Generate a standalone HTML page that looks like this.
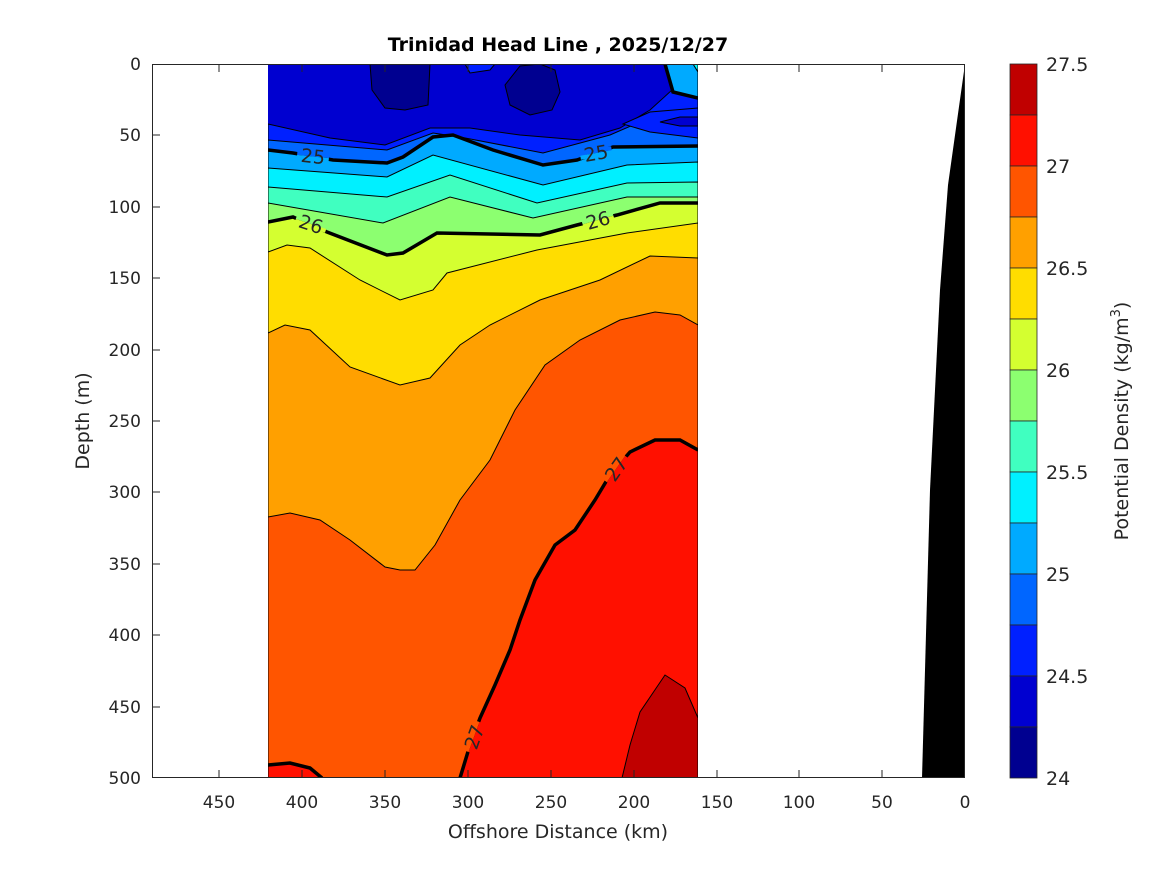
<!DOCTYPE html>
<html><head><meta charset="utf-8"><style>
body{margin:0;background:#fff;}
svg text{font-family:"DejaVu Sans","Liberation Sans",sans-serif;fill:#262626;}
</style></head><body>
<svg width="1167" height="875" viewBox="0 0 1167 875" xmlns="http://www.w3.org/2000/svg">
<defs><clipPath id="c"><rect x="268" y="64" width="430" height="714"/></clipPath></defs>
<rect width="1167" height="875" fill="#fff"/>
<g clip-path="url(#c)" stroke="#000" stroke-width="1">
<rect x="268" y="64" width="430" height="714" fill="#0000d0" stroke="none"/>
<path d="M370,64 L372,90 L385,108 L405,110 L428,105 L430,64 Z" fill="#000090"/>
<path d="M505,85 L510,105 L530,115 L552,110 L560,92 L555,70 L540,64 L520,66 Z" fill="#000090"/>
<path d="M465,64 L470,73 L490,70 L495,64 Z" fill="#0020ff"/>
<path d="M268,124 L330,138 L385,145 L430,128 L470,128 L520,135 L580,140 L620,128 L650,110 L672,90 L680,64 L698,64 L698,778 L268,778 Z" fill="#0020ff"/>
<path d="M268,140 L387,150 L433,133 L460,137 L543,153 L610,135 L640,122 L698,118 L698,778 L268,778 Z" fill="#0066ff"/>
<path d="M623,124 L650,112 L698,108 L698,138 L650,132 Z" fill="#0020ff"/>
<path d="M660,122 L680,117 L698,117 L698,126 L680,126 Z" fill="#0000d0"/>
<path d="M268,150 L293,153 L333,160 L387,163 L403,157 L433,137 L453,135 L493,150 L543,165 L577,160 L613,147 L698,146 L698,778 L268,778 Z" fill="#00aaff"/>
<path d="M665,64 L673,92 L698,98 L698,64 Z" fill="#00aaff"/>
<path d="M693,64 L698,72 L698,64 Z" fill="#00ffff"/>
<path d="M268,168 L387,177 L433,155 L543,185 L627,165 L698,162 L698,778 L268,778 Z" fill="#00f0ff"/>
<path d="M268,187 L387,197 L450,175 L537,203 L627,183 L698,182 L698,778 L268,778 Z" fill="#40ffc0"/>
<path d="M268,203 L383,223 L450,197 L533,218 L627,197 L698,197 L698,778 L268,778 Z" fill="#8cff70"/>
<path d="M268,222 L293,217 L327,232 L387,255 L403,253 L437,233 L540,235 L577,225 L617,215 L660,203 L698,203 L698,778 L268,778 Z" fill="#d4ff30"/>
<path d="M268,252 L287,245 L310,248 L360,280 L400,300 L433,290 L447,273 L537,250 L627,233 L698,223 L698,778 L268,778 Z" fill="#ffdd00"/>
<path d="M268,333 L285,325 L310,330 L350,367 L400,385 L430,378 L460,345 L490,325 L540,300 L600,280 L650,256 L698,258 L698,778 L268,778 Z" fill="#ffa000"/>
<path d="M268,517 L290,513 L320,520 L350,540 L385,567 L400,570 L415,570 L435,545 L460,500 L490,460 L515,410 L545,365 L580,340 L620,320 L655,312 L680,315 L698,325 L698,778 L268,778 Z" fill="#ff5500"/>
<path d="M460,778 L470,745 L480,718 L495,685 L510,650 L520,620 L535,580 L555,545 L575,530 L595,500 L610,475 L630,452 L655,440 L680,440 L698,450 L698,778 Z" fill="#ff1000"/>
<path d="M268,765 L290,763 L310,768 L322,778 L268,778 Z" fill="#ff1000"/>
<path d="M622,778 L630,745 L640,712 L665,675 L685,688 L698,718 L698,778 Z" fill="#c00000"/>
<g fill="none" stroke-width="3.5">
<polyline points="268,150 293,153 333,160 387,163 403,157 433,137 453,135 493,150 543,165 577,160 613,147 698,146"/>
<polyline points="665,64 673,92 698,98"/>
<polyline points="268,222 293,217 327,232 387,255 403,253 437,233 540,235 577,225 617,215 660,203 698,203"/>
<polyline points="460,778 470,745 480,718 495,685 510,650 520,620 535,580 555,545 575,530 595,500 610,475 630,452 655,440 680,440 698,450"/>
<polyline points="268,765 290,763 310,768 322,778"/>
</g>
<g stroke="none">
<g transform="translate(313 156.5) rotate(6)"><rect x="-16" y="-4" width="32" height="4" fill="#0066ff"/><rect x="-16" y="0" width="32" height="4" fill="#00aaff"/></g>
<g transform="translate(596 153) rotate(-10)"><rect x="-16" y="-4" width="32" height="4" fill="#0066ff"/><rect x="-16" y="0" width="32" height="4" fill="#00aaff"/></g>
<g transform="translate(311 224) rotate(18)"><rect x="-16" y="-4" width="32" height="4" fill="#8cff70"/><rect x="-16" y="0" width="32" height="4" fill="#d4ff30"/></g>
<g transform="translate(598 220) rotate(-16)"><rect x="-16" y="-4" width="32" height="4" fill="#8cff70"/><rect x="-16" y="0" width="32" height="4" fill="#d4ff30"/></g>
<g transform="translate(616 469) rotate(-55)"><rect x="-16" y="-4" width="32" height="4" fill="#ff5500"/><rect x="-16" y="0" width="32" height="4" fill="#ff1000"/></g>
<g transform="translate(474 737) rotate(-70)"><rect x="-16" y="-4" width="32" height="4" fill="#ff5500"/><rect x="-16" y="0" width="32" height="4" fill="#ff1000"/></g>
</g>
</g>
<g font-size="19" style="fill:#000">
<text x="313" y="163" text-anchor="middle" transform="rotate(6 313 156.5)">25</text>
<text x="596" y="160" text-anchor="middle" transform="rotate(-10 596 153)">25</text>
<text x="311" y="231" text-anchor="middle" transform="rotate(18 311 224)">26</text>
<text x="598" y="227" text-anchor="middle" transform="rotate(-16 598 220)">26</text>
<text x="616" y="476" text-anchor="middle" transform="rotate(-55 616 469)">27</text>
<text x="474" y="744" text-anchor="middle" transform="rotate(-70 474 737)">27</text>
</g>
<path d="M965,64 L948,185 L940,290 L930,490 L922,778 L965,778 Z" fill="#000"/>
<rect x="152.5" y="64.5" width="812" height="713" fill="none" stroke="#262626" stroke-width="1"/>
<g stroke="#262626" stroke-width="1">
<line x1="219" y1="778" x2="219" y2="770"/><line x1="302" y1="778" x2="302" y2="770"/><line x1="385" y1="778" x2="385" y2="770"/><line x1="468" y1="778" x2="468" y2="770"/><line x1="551" y1="778" x2="551" y2="770"/><line x1="634" y1="778" x2="634" y2="770"/><line x1="717" y1="778" x2="717" y2="770"/><line x1="799" y1="778" x2="799" y2="770"/><line x1="882" y1="778" x2="882" y2="770"/>
<line x1="219" y1="64" x2="219" y2="72"/><line x1="302" y1="64" x2="302" y2="72"/><line x1="385" y1="64" x2="385" y2="72"/><line x1="468" y1="64" x2="468" y2="72"/><line x1="551" y1="64" x2="551" y2="72"/><line x1="634" y1="64" x2="634" y2="72"/><line x1="717" y1="64" x2="717" y2="72"/><line x1="799" y1="64" x2="799" y2="72"/><line x1="882" y1="64" x2="882" y2="72"/>
<line x1="152" y1="135" x2="160" y2="135"/><line x1="152" y1="207" x2="160" y2="207"/><line x1="152" y1="278" x2="160" y2="278"/><line x1="152" y1="350" x2="160" y2="350"/><line x1="152" y1="421" x2="160" y2="421"/><line x1="152" y1="492" x2="160" y2="492"/><line x1="152" y1="564" x2="160" y2="564"/><line x1="152" y1="635" x2="160" y2="635"/><line x1="152" y1="707" x2="160" y2="707"/>
</g>
<g font-size="17" text-anchor="middle">
<text x="219" y="808">450</text><text x="302" y="808">400</text><text x="385" y="808">350</text><text x="468" y="808">300</text><text x="551" y="808">250</text><text x="634" y="808">200</text><text x="717" y="808">150</text><text x="799" y="808">100</text><text x="882" y="808">50</text><text x="965" y="808">0</text>
</g>
<g font-size="17" text-anchor="end">
<text x="141" y="70">0</text><text x="141" y="141">50</text><text x="141" y="213">100</text><text x="141" y="284">150</text><text x="141" y="356">200</text><text x="141" y="427">250</text><text x="141" y="498">300</text><text x="141" y="570">350</text><text x="141" y="641">400</text><text x="141" y="713">450</text><text x="141" y="784">500</text>
</g>
<text x="558" y="838" font-size="19" text-anchor="middle">Offshore Distance (km)</text>
<text x="89" y="421" font-size="19" text-anchor="middle" transform="rotate(-90 89 421)">Depth (m)</text>
<text x="558" y="51" font-size="19" font-weight="bold" text-anchor="middle" style="fill:#000">Trinidad Head Line , 2025/12/27</text>
<g stroke="#262626" stroke-width="0.8">
<rect x="1010" y="64" width="27" height="51" fill="#c00000"/>
<rect x="1010" y="115" width="27" height="51" fill="#ff1000"/>
<rect x="1010" y="166" width="27" height="51" fill="#ff5500"/>
<rect x="1010" y="217" width="27" height="51" fill="#ffa000"/>
<rect x="1010" y="268" width="27" height="51" fill="#ffdd00"/>
<rect x="1010" y="319" width="27" height="51" fill="#d4ff30"/>
<rect x="1010" y="370" width="27" height="51" fill="#8cff70"/>
<rect x="1010" y="421" width="27" height="51" fill="#40ffc0"/>
<rect x="1010" y="472" width="27" height="51" fill="#00f0ff"/>
<rect x="1010" y="523" width="27" height="51" fill="#00aaff"/>
<rect x="1010" y="574" width="27" height="51" fill="#0066ff"/>
<rect x="1010" y="625" width="27" height="51" fill="#0020ff"/>
<rect x="1010" y="676" width="27" height="51" fill="#0000d0"/>
<rect x="1010" y="727" width="27" height="51" fill="#000090"/>
</g>
<g font-size="19">
<text x="1046" y="71">27.5</text><text x="1046" y="173">27</text><text x="1046" y="275">26.5</text><text x="1046" y="377">26</text><text x="1046" y="479">25.5</text><text x="1046" y="581">25</text><text x="1046" y="683">24.5</text><text x="1046" y="785">24</text>
</g>
<text x="1128" y="421" font-size="19" text-anchor="middle" transform="rotate(-90 1128 421)">Potential Density (kg/m<tspan font-size="13" dy="-8">3</tspan><tspan dy="8">)</tspan></text>
</svg>
</body></html>
